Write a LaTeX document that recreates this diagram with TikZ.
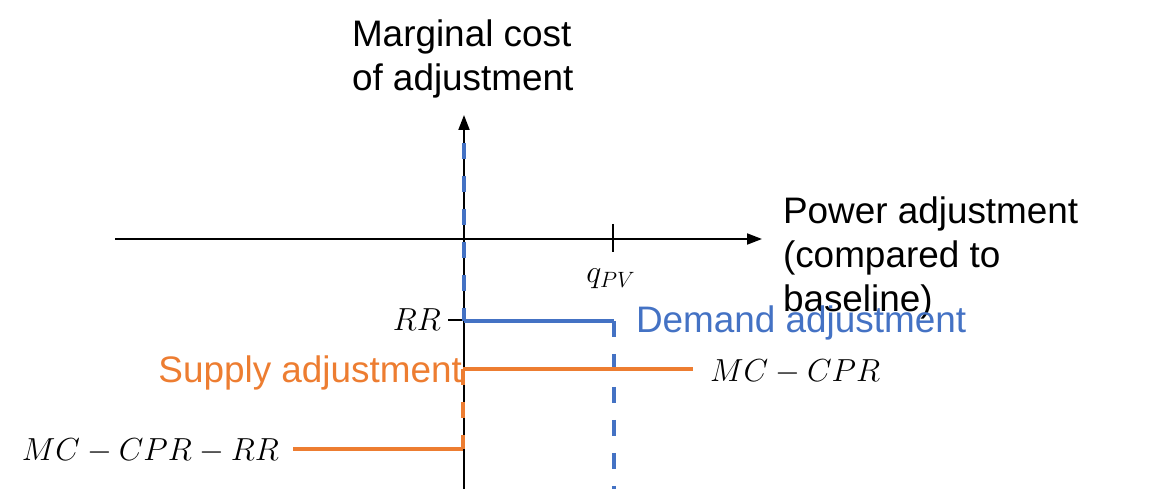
\documentclass[tikz,border=0pt]{standalone}
\usepackage{graphicx}
\usepackage{fontspec}
\setmainfont{Liberation Sans}
\usetikzlibrary{arrows.meta}
\definecolor{demandblue}{HTML}{4472C4}
\definecolor{supplyorange}{HTML}{ED7D31}
\newcommand{\mlabel}[1]{\scalebox{1.05}{$#1$}}
\begin{document}
\begin{tikzpicture}[x=0.02cm,y=-0.02cm,inner sep=0pt,outer sep=0pt,
axis/.style={line width=1.1pt,-{Triangle[length=0.3cm,width=0.22cm]}},
tick/.style={line width=1.1pt},
demand/.style={demandblue,line width=2.2pt},
supply/.style={supplyorange,line width=2.2pt},
gap/.style={dash pattern=on 0.32cm off 0.34cm},
lbl/.style={font=\fontsize{21pt}{25pt}\selectfont,align=left},
mathlbl/.style={font=\fontsize{17.28pt}{21pt}\selectfont}]
\useasboundingbox (0,0) rectangle (1170,489);
% axes
\coordinate (ybot) at (464,489);
\coordinate (ytop) at (464,115);
\coordinate (xleft) at (115,239);
\coordinate (xright) at (762,239);
\draw[axis] (ybot) -- (ytop);
\draw[axis] (xleft) -- (xright);
\draw (352,20) node[lbl,anchor=north west] (ylabel) {Marginal cost\\of adjustment};
\draw (783,197) node[lbl,anchor=north west] (xlabel) {Power adjustment\\(compared to\\baseline)};
% ticks
\draw[tick] (613,224) coordinate (qtop) -- (613,252) coordinate (qbot);
\draw (qbot) ++(-2,31) node[mathlbl,anchor=base] (qlabel) {\mlabel{q_{PV}}};
\draw[tick] (448,320) coordinate (rrleft) -- (479,320) coordinate (rrright);
\draw (rrleft) ++(-7,11) node[mathlbl,anchor=base east] (rrlabel) {\mlabel{RR}};
% demand
\coordinate (dtop) at (464,143);
\coordinate (dleft) at (464,321);
\coordinate (dright) at (614,321);
\coordinate (dbot) at (614,489);
\draw[demand,gap] (dtop) -- (dleft);
\draw[demand] (dleft) -- (dright);
\draw[demand,gap] (dright) -- (dbot);
\draw (636,333) node[lbl,anchor=base west,demandblue] (demandlabel) {Demand adjustment};
% supply
\coordinate (sup) at (463,369);
\coordinate (supright) at (693,369);
\coordinate (slow) at (463,449);
\coordinate (slowleft) at (293,449);
\draw[supply] (sup) -- (supright);
\draw[supply,gap] (sup) -- (slow);
\draw[supply] (slowleft) -- (slow);
\draw (462,383) node[lbl,anchor=base east,supplyorange] (supplylabel) {Supply adjustment};
\draw (710,382) node[mathlbl,anchor=base west] (mccpr) {\mlabel{MC-CPR}};
\draw (slowleft) ++(-14,11) node[mathlbl,anchor=base east] (mccprrr) {\mlabel{MC-CPR-RR}};
\end{tikzpicture}
\end{document}
